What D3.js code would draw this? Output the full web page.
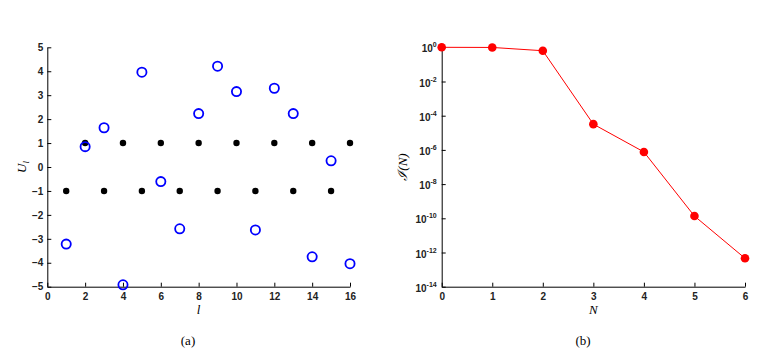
<!DOCTYPE html>
<html>
<head>
<meta charset="utf-8">
<script src="https://cdn.jsdelivr.net/npm/d3@7"></script>
<style>
  body { margin: 0; background: #fff; }
  svg { display: block; }
  .tick text { font-family: "Liberation Sans", sans-serif; font-size: 10px; font-weight: bold; fill: #222; }
  .lab { font-family: "Liberation Serif", serif; font-size: 13px; fill: #000; }
</style>
</head>
<body>
<svg id="chart" width="766" height="353"></svg>
<script>
// panel (a)
var lIndex = d3.range(1, 17)
var blackVals = [-1, 1, -1, 1, -1, 1, -1, 1, -1, 1, -1, 1, -1, 1, -1, 1]
var blueVals = [-3.22, 0.85, 1.64, -4.92, 3.96, -0.61, -2.58, 2.23, 4.21, 3.15, -2.63, 3.29, 2.23, -3.75, 0.26, -4.04]
var xTicksA = [0, 2, 4, 6, 8, 10, 12, 14, 16]
var yTicksA = d3.range(-5, 6)

// panel (b)
var nIndex = [0, 1, 2, 3, 4, 5, 6]
var jVals = [1, 0.98, 0.63, 3.2e-5, 7.6e-7, 1.35e-10, 4.6e-13]
var yTicksB = [0, -2, -4, -6, -8, -10, -12, -14]

var svg = d3.select('#chart')

var plotTop = 47.3, plotBottom = 286.7

// ---------- left panel ----------
var xA = d3.scaleLinear().domain([0, 16]).range([47.3, 350])
var yA = d3.scaleLinear().domain([-5, 5]).range([plotBottom, plotTop])

var gA = svg.append('g')

gA.append('g')
    .attr('transform', 'translate(0,' + plotBottom + ')')
    .call(d3.axisBottom(xA).tickValues(xTicksA).tickSizeInner(-4).tickSizeOuter(0).tickPadding(6))

gA.append('g')
    .attr('transform', 'translate(' + xA(0) + ',0)')
    .call(d3.axisLeft(yA).tickValues(yTicksA).tickSizeInner(-4).tickSizeOuter(0).tickPadding(4))

gA.selectAll('.domain').attr('stroke', '#000')
gA.selectAll('.tick line').attr('stroke', '#000')

gA.append('g')
    .selectAll('circle')
    .data(lIndex)
    .enter().append('circle')
    .attr('cx', function (d) { return xA(d) })
    .attr('cy', function (d, i) { return yA(blackVals[i]) })
    .attr('r', 3.2)
    .attr('fill', '#000')

gA.append('g')
    .selectAll('circle')
    .data(lIndex)
    .enter().append('circle')
    .attr('cx', function (d) { return xA(d) })
    .attr('cy', function (d, i) { return yA(blueVals[i]) })
    .attr('r', 4.6)
    .attr('fill', 'none')
    .attr('stroke', '#0000ff')
    .attr('stroke-width', 1.8)

gA.append('text')
    .attr('class', 'lab')
    .attr('x', xA(8))
    .attr('y', 314)
    .attr('text-anchor', 'middle')
    .attr('font-style', 'italic')
    .text('l')

gA.append('text')
    .attr('class', 'lab')
    .attr('transform', 'translate(26,' + yA(0) + ') rotate(-90)')
    .attr('text-anchor', 'middle')
    .attr('font-style', 'italic')
    .html('U<tspan font-size="9px" dy="3">l</tspan>')

gA.append('text')
    .attr('class', 'lab')
    .attr('x', 188)
    .attr('y', 345)
    .attr('text-anchor', 'middle')
    .text('(a)')

// ---------- right panel ----------
var xB = d3.scaleLinear().domain([0, 6]).range([441.7, 745])
var yB = d3.scaleLog().domain([1e-14, 1]).range([plotBottom, plotTop])

var gB = svg.append('g')

gB.append('g')
    .attr('transform', 'translate(0,' + plotBottom + ')')
    .call(d3.axisBottom(xB).tickValues(nIndex).tickFormat(d3.format('d'))
        .tickSizeInner(-4).tickSizeOuter(0).tickPadding(6))

var yAxisB = gB.append('g')
    .attr('transform', 'translate(' + xB(0) + ',0)')
    .call(d3.axisLeft(yB).tickValues(yTicksB.map(function (e) { return Math.pow(10, e) }))
        .tickSizeInner(-4).tickSizeOuter(0).tickPadding(5).tickFormat(''))

yAxisB.selectAll('.tick text')
    .data(yTicksB)
    .attr('dy', '0.45em')
    .html(function (e) { return '10<tspan font-size="7px" dy="-5">' + e + '</tspan>' })

gB.selectAll('.domain').attr('stroke', '#000')
gB.selectAll('.tick line').attr('stroke', '#000')

var line = d3.line()
    .x(function (d, i) { return xB(nIndex[i]) })
    .y(function (d) { return yB(d) })

gB.append('path')
    .datum(jVals)
    .attr('d', line)
    .attr('fill', 'none')
    .attr('stroke', '#ff0000')
    .attr('stroke-width', 1)

gB.append('g')
    .selectAll('circle')
    .data(jVals)
    .enter().append('circle')
    .attr('cx', function (d, i) { return xB(nIndex[i]) })
    .attr('cy', function (d) { return yB(d) })
    .attr('r', 4.3)
    .attr('fill', '#ff0000')

gB.append('text')
    .attr('class', 'lab')
    .attr('x', xB(3))
    .attr('y', 314)
    .attr('text-anchor', 'middle')
    .attr('font-style', 'italic')
    .text('N')

gB.append('text')
    .attr('class', 'lab')
    .attr('transform', 'translate(407,167) rotate(-90)')
    .attr('text-anchor', 'middle')
    .attr('font-style', 'italic')
    .text('\u2110(N)')

gB.append('text')
    .attr('class', 'lab')
    .attr('x', 583)
    .attr('y', 345)
    .attr('text-anchor', 'middle')
    .text('(b)')
</script>
</body>
</html>
